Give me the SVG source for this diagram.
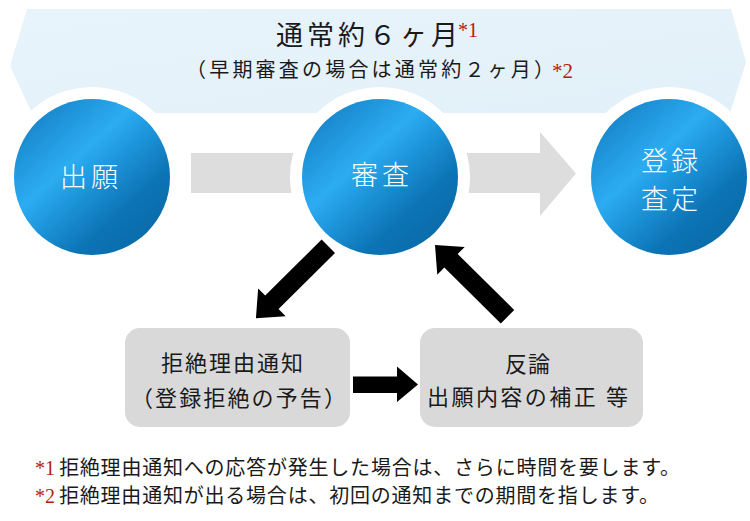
<svg xmlns="http://www.w3.org/2000/svg" width="750" height="521" viewBox="0 0 750 521">
<defs>
<linearGradient id="ball" x1="0.12" y1="0.08" x2="0.88" y2="0.92">
<stop offset="0" stop-color="#1783c9"/>
<stop offset="0.36" stop-color="#2cacf2"/>
<stop offset="0.5" stop-color="#1f98de"/>
<stop offset="0.76" stop-color="#0c74b5"/>
<stop offset="1" stop-color="#0a6aa8"/>
</linearGradient>
<linearGradient id="band" x1="0" y1="0" x2="1" y2="1">
<stop offset="0" stop-color="#e8f4fb"/>
<stop offset="1" stop-color="#e2f0f9"/>
</linearGradient>
<polygon id="diag" points="0,-9.5 79.5,-9.5 79.5,-19.5 102,0 79.5,19.5 79.5,9.5 0,9.5"/>
</defs>
<style>
.t{font-family:'Liberation Serif','Noto Sans CJK JP',serif;font-weight:400;fill:#1a1a1a}
.w{font-family:'Liberation Serif','Noto Sans CJK JP',serif;font-weight:300;fill:#ffffff;font-size:27px}
.red{font-family:'Liberation Serif','Noto Sans CJK JP',serif;fill:#b3200e}
.halo{fill:#ffffff}
.ball{fill:url(#ball)}
.box{fill:#d9d9d9}
.gray{fill:#dddddd}
.blk{fill:#000000}
</style>

<g id="banner">
<polygon points="27,9 731,9 746,62 730,113 32,113 10,66" fill="url(#band)"/>
<text class="t" x="276" y="45" font-size="27" textLength="182" lengthAdjust="spacing">通常約６ヶ月</text>
<text class="red" x="458" y="37" font-size="20">*1</text>
<text class="t" x="186" y="77" font-size="20" textLength="368" lengthAdjust="spacing">（早期審査の場合は通常約２ヶ月）</text>
<text class="red" x="552" y="78" font-size="21">*2</text>
</g>

<g id="node-shutsugan">
<circle class="halo" cx="92" cy="177" r="90"/>
<circle class="ball" cx="92" cy="177" r="78"/>
<text class="w" x="60" y="187" textLength="58" lengthAdjust="spacing">出願</text>
</g>

<g id="node-shinsa">
<circle class="halo" cx="380" cy="177" r="90"/>
<circle class="ball" cx="380" cy="177" r="78"/>
<text class="w" x="351" y="185" textLength="58" lengthAdjust="spacing">審査</text>
</g>

<g id="node-toroku">
<circle class="halo" cx="669" cy="177" r="90"/>
<circle class="ball" cx="669" cy="177" r="78"/>
<text class="w" x="641" y="171" textLength="57" lengthAdjust="spacing">登録</text>
<text class="w" x="641" y="209" textLength="57" lengthAdjust="spacing">査定</text>
</g>

<g id="node-kyozetsu">
<rect class="box" x="125" y="328" width="225" height="99" rx="15"/>
<text class="t" x="161" y="371" font-size="22" textLength="142" lengthAdjust="spacing">拒絶理由通知</text>
<text class="t" x="131" y="406" font-size="22" textLength="215" lengthAdjust="spacing">（登録拒絶の予告）</text>
</g>

<g id="node-hanron">
<rect class="box" x="420" y="328" width="223" height="99" rx="15"/>
<text class="t" x="505" y="372" font-size="22" textLength="45" lengthAdjust="spacing">反論</text>
<text class="t" x="427" y="405" font-size="22" textLength="201" lengthAdjust="spacing">出願内容の補正 等</text>
</g>

<g id="connectors">
<path class="gray" d="M191,153 L293.26,153 A90,90 0 0 0 291.43,193 L191,193 Z"/>
<path class="gray" d="M466.74,153 L540,153 L540,132 L576,173.5 L540,216 L540,193 L468.57,193 A90,90 0 0 0 466.74,153 Z"/>
<use href="#diag" class="blk" transform="translate(328.3,246.3) rotate(135.2)"/>
<use href="#diag" class="blk" transform="translate(507.5,316.7) rotate(-135.3)"/>
<polygon class="blk" points="353,376.5 397,376.5 397,366.5 418,384.5 397,402 397,393 353,393"/>
</g>

<g id="footnotes">
<text class="red" x="35" y="475" font-size="20">*1</text>
<text class="t" x="59" y="475" font-size="20" textLength="621" lengthAdjust="spacing">拒絶理由通知への応答が発生した場合は、さらに時間を要します。</text>
<text class="red" x="35" y="503" font-size="20">*2</text>
<text class="t" x="59" y="503" font-size="20" textLength="600" lengthAdjust="spacing">拒絶理由通知が出る場合は、初回の通知までの期間を指します。</text>
</g>
</svg>
